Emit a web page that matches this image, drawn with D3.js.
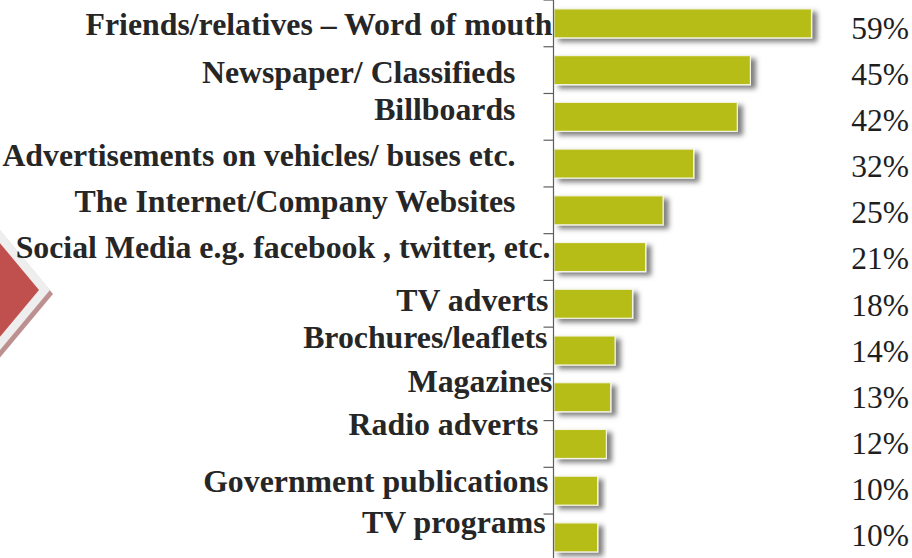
<!DOCTYPE html>
<html>
<head>
<meta charset="utf-8">
<script src="https://cdn.jsdelivr.net/npm/d3@7"></script>
<style>
  html, body { margin: 0; padding: 0; background: #fff; overflow: hidden; }
  svg { display: block; }
</style>
</head>
<body>
<svg id="chart" width="912" height="558"></svg>
<script>
// Advertising channels and the share of respondents who named each one
const channels = [
  "Friends/relatives \u2013 Word of mouth",
  "Newspaper/ Classifieds",
  "Billboards",
  "Advertisements on vehicles/ buses etc.",
  "The Internet/Company Websites",
  "Social Media e.g. facebook , twitter, etc.",
  "TV adverts",
  "Brochures/leaflets",
  "Magazines",
  "Radio adverts",
  "Government publications",
  "TV programs"
];
const shares = [59, 45, 42, 32, 25, 21, 18, 14, 13, 12, 10, 10];

// Hand placement of the category captions: [dx from axis, dy from bar centre]
const captionNudge = [
  [-1, 11.5], [-38, 12.8], [-38, 3], [-38, 2.3], [-38, 2.1], [-3, 0.8],
  [-5, 7.1], [-6, -2.6], [-1, -5.3], [-15, -9.1], [-5, 1.2], [-8, -4.5]
];

const svg = d3.select("#chart");
const axisX = 553.5;

const defs = svg.append("defs");
const f = defs.append("filter").attr("id", "barShadow")
  .attr("x", "-10%").attr("y", "-30%").attr("width", "130%").attr("height", "180%");
f.append("feDropShadow")
  .attr("dx", 5).attr("dy", 3.5).attr("stdDeviation", 2.6)
  .attr("flood-color", "#000").attr("flood-opacity", 0.5);

// Decorative diamond on the left edge
const diamond = (tipX, tipY, half, slope) =>
  [[tipX, tipY], [tipX - half, tipY - half * slope], [tipX - 2 * half, tipY], [tipX - half, tipY + half * slope]]
    .map(p => p.join(",")).join(" ");
svg.append("polygon").attr("points", diamond(53, 294, 90, 1.2)).attr("fill", "#bd9090");
svg.append("polygon").attr("points", diamond(50, 290, 90, 1.2)).attr("fill", "#eeeeee");
svg.append("polygon").attr("points", diamond(39, 290, 79, 1.2)).attr("fill", "#c0504d");

// Scales
const y = d3.scaleBand()
  .domain(channels)
  .range([0, 560.8])
  .paddingInner(0.379)
  .paddingOuter(0.19);

const x = d3.scaleLinear()
  .domain([0, 59])
  .range([axisX + 0.5, axisX + 258]);

const labelY = d3.scalePoint()
  .domain(channels)
  .range([39, 546]);

// Bars
svg.append("g").selectAll("rect")
  .data(channels)
  .join("rect")
  .attr("x", x(0))
  .attr("y", d => y(d))
  .attr("width", (d, i) => x(shares[i]) - x(0))
  .attr("height", y.bandwidth())
  .attr("fill", "#b6bd14")
  .attr("stroke", "#f4f4e6")
  .attr("stroke-width", 1.2)
  .attr("filter", "url(#barShadow)");

// Category axis: line plus ticks at the category boundaries
const axis = svg.append("g").attr("stroke", "#5e5e5e").attr("stroke-width", 1.2);
axis.append("line")
  .attr("x1", axisX).attr("x2", axisX)
  .attr("y1", 0).attr("y2", 558);
const boundaries = d3.range(channels.length + 1)
  .map(i => y(channels[0]) - y.step() * y.paddingInner() / 2 + i * y.step());
axis.selectAll("line.tick")
  .data(boundaries)
  .join("line")
  .attr("class", "tick")
  .attr("x1", axisX - 10).attr("x2", axisX)
  .attr("y1", d => d).attr("y2", d => d);

// Category captions
svg.append("g").selectAll("text")
  .data(channels)
  .join("text")
  .attr("x", (d, i) => axisX + captionNudge[i][0])
  .attr("y", (d, i) => y(d) + y.bandwidth() / 2 + captionNudge[i][1])
  .attr("text-anchor", "end")
  .attr("font-family", "'Liberation Serif', 'Times New Roman', serif")
  .attr("font-weight", "bold")
  .attr("font-size", 31.8)
  .attr("fill", "#262626")
  .text(d => d);

// Value labels
svg.append("g").selectAll("text")
  .data(channels)
  .join("text")
  .attr("x", 909)
  .attr("y", d => labelY(d))
  .attr("text-anchor", "end")
  .attr("font-family", "'Liberation Serif', 'Times New Roman', serif")
  .attr("font-size", 31.5)
  .attr("fill", "#1e1e1e")
  .text((d, i) => shares[i] + "%");
</script>
</body>
</html>
